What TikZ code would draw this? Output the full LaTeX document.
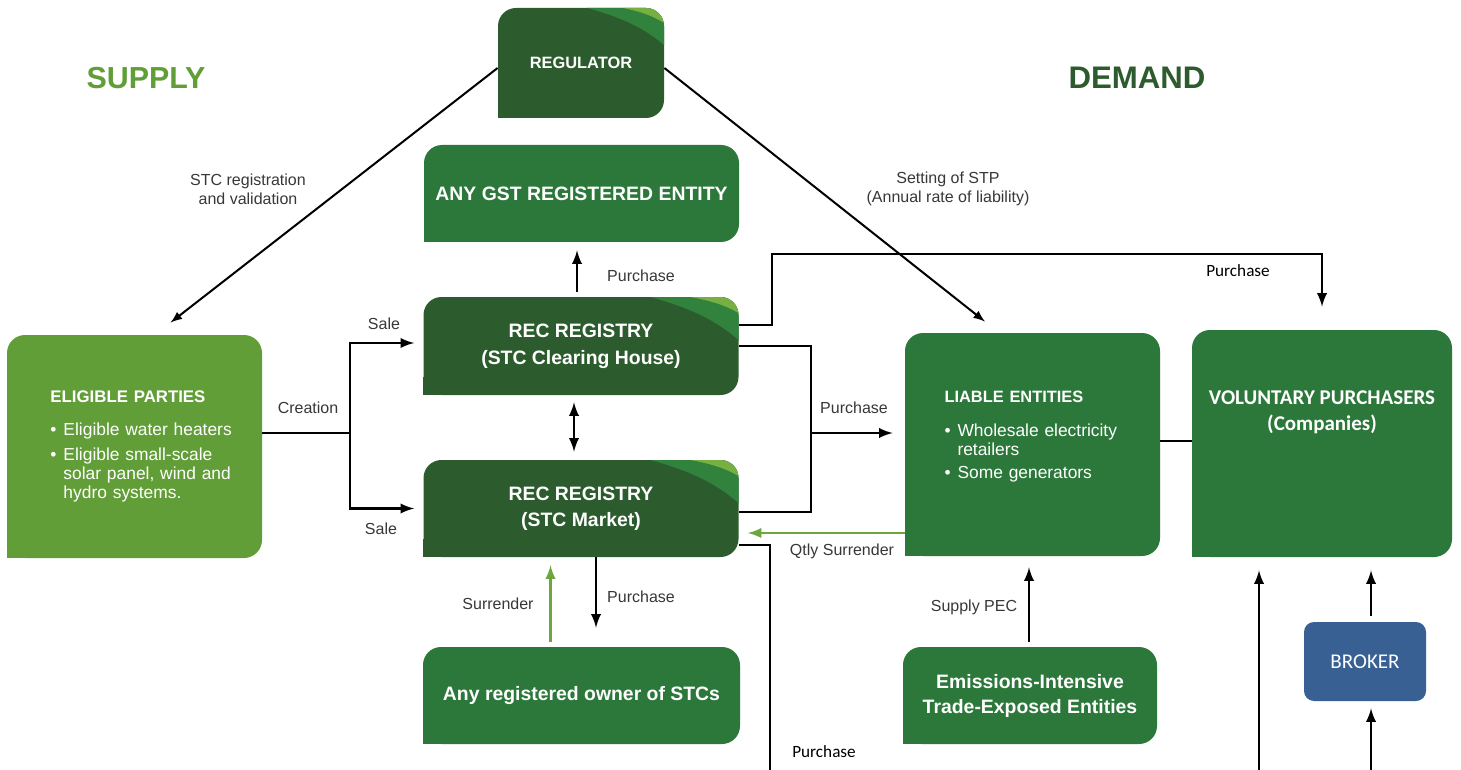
\documentclass[tikz,border=0pt]{standalone}
\usepackage{fontspec}
\setmainfont{Liberation Sans}
\newfontfamily\calibri{Carlito}
\usepackage{tikz}

\definecolor{darkgrn}{RGB}{44,92,46}
\definecolor{midgrn}{RGB}{44,120,58}
\definecolor{lightgrn}{RGB}{98,158,56}
\definecolor{swmid}{RGB}{48,130,60}
\definecolor{swlight}{RGB}{118,176,66}
\definecolor{brokerblue}{RGB}{56,96,146}
\definecolor{labelgray}{RGB}{55,55,55}
\definecolor{arrowgrn}{RGB}{108,166,60}

\newcommand{\bul}{\makebox[6.5pt][l]{\textbullet}}
\newcommand{\ind}{\hspace*{6.5pt}}

\tikzset{
  box/.style={rounded corners=9pt, text=white, inner sep=0pt},
  swoosh/.style n args={4}{path picture={
    \fill[swmid, sharp corners] ([xshift=-#1]path picture bounding box.north east)
      .. controls +({0.45*#1},{-0.25*#2}) and +({-0.25*#1},{0.45*#2}) .. ([yshift=-#2]path picture bounding box.north east)
      -- ([shift={(5pt,-#2)}]path picture bounding box.north east)
      -- ([shift={(5pt,5pt)}]path picture bounding box.north east)
      -- ([shift={(-#1,5pt)}]path picture bounding box.north east) -- cycle;
    \fill[swlight, sharp corners] ([xshift=-#3]path picture bounding box.north east)
      .. controls +({0.45*#3},{-0.25*#4}) and +({-0.25*#3},{0.45*#4}) .. ([yshift=-#4]path picture bounding box.north east)
      -- ([shift={(5pt,-#4)}]path picture bounding box.north east)
      -- ([shift={(5pt,5pt)}]path picture bounding box.north east)
      -- ([shift={(-#3,5pt)}]path picture bounding box.north east) -- cycle;
  }},
  conn/.style={line width=1.3pt, black},
  grnconn/.style={line width=1.3pt, arrowgrn},
  diag/.style={line width=1pt, black},
  lbl/.style={text=labelgray, align=center, font=\fontsize{8}{9.5}\selectfont},
  lblc/.style={text=black, font=\calibri\fontsize{8.6}{10}\selectfont},
}

\begin{document}
\begin{tikzpicture}[>=latex, x=0.5pt, y=-0.5pt]
\useasboundingbox (0,0) rectangle (1461,770);
%%
\node (supply) at (146,78) [text=lightgrn, font=\bfseries\fontsize{15.2}{18}\selectfont] {SUPPLY};
\node (demand) at (1137,78) [text=darkgrn, font=\bfseries\fontsize{15.6}{18}\selectfont] {DEMAND};
%
\node (reg) at (581,63) [box, fill=darkgrn, minimum width=83pt, minimum height=55pt, swoosh={38.5pt}{18.5pt}{20.5pt}{7.5pt}, font=\bfseries\fontsize{8.2}{10}\selectfont] {REGULATOR};
\node (gst) at (581.5,193.5) [box, fill=midgrn, minimum width=157.5pt, minimum height=48.5pt, font=\bfseries\fontsize{9.7}{12}\selectfont] {ANY GST REGISTERED ENTITY};
\node (rec1) at (581,346) [box, fill=darkgrn, minimum width=157.5pt, minimum height=49pt, align=center, swoosh={44pt}{21.5pt}{24pt}{8pt}, font=\bfseries\fontsize{9.7}{13.3}\selectfont] {REC REGISTRY\\(STC Clearing House)\rule[-2pt]{0pt}{0pt}};
\node (rec2) at (581,508.5) [box, fill=darkgrn, minimum width=157.5pt, minimum height=48.5pt, align=center, swoosh={44pt}{21.5pt}{24pt}{8pt}, font=\bfseries\fontsize{9.7}{13}\selectfont] {REC REGISTRY\\(STC Market)\rule[-2pt]{0pt}{0pt}};
\node (owner) at (581.5,695.5) [box, fill=midgrn, minimum width=158.5pt, minimum height=48.5pt, font=\bfseries\fontsize{9.7}{12}\selectfont] {Any registered owner of STCs};
\node (elig) at (134.5,446.5) [box, fill=lightgrn, minimum width=127.5pt, minimum height=111.5pt, text width=102pt, align=left, font=\fontsize{8.7}{9.5}\selectfont]
  {\leftskip=9pt{\bfseries\fontsize{8.4}{9.5}\selectfont ELIGIBLE PARTIES}\\[7pt]
   \bul Eligible water heaters\\[3pt]
   \bul Eligible small-scale\\
   \ind solar panel, wind and\\
   \ind hydro systems.\par};
\node (liable) at (1032.5,444.5) [box, fill=midgrn, minimum width=127.5pt, minimum height=111.5pt, text width=88pt, align=left, font=\fontsize{8.7}{9.5}\selectfont]
  {{\bfseries\fontsize{8.2}{9.5}\selectfont LIABLE ENTITIES}\\[7.5pt]
   \bul Wholesale electricity\\
   \ind retailers\\[2pt]
   \bul Some generators\rule[-9.5pt]{0pt}{0pt}};
\node (vol) at (1322,443.5) [box, fill=midgrn, minimum width=130pt, minimum height=113.5pt, align=center, font=\calibri\bfseries\fontsize{10.5}{13}\selectfont] {VOLUNTARY PURCHASERS\\(Companies)\rule[-33pt]{0pt}{0pt}};
\node (eite) at (1030,695.5) [box, fill=midgrn, minimum width=127pt, minimum height=48.5pt, align=center, font=\bfseries\fontsize{9.7}{12.5}\selectfont] {Emissions-Intensive\\Trade-Exposed Entities};
\node (broker) at (1365,661.5) [box, rounded corners=5pt, fill=brokerblue, minimum width=61pt, minimum height=39.5pt, font=\calibri\fontsize{10.5}{12}\selectfont] {BROKER};
%
\fill[darkgrn] (reg.south west) rectangle ++(9pt,9pt);
\fill[midgrn] (gst.south west) rectangle ++(9pt,9pt);
\fill[darkgrn] (rec1.south west) rectangle ++(9pt,9pt);
\fill[darkgrn] (rec2.south west) rectangle ++(9pt,9pt);
\fill[midgrn] (owner.south west) rectangle ++(9pt,9pt);
\fill[lightgrn] (elig.south west) rectangle ++(9pt,9pt);
\fill[midgrn] (liable.south west) rectangle ++(9pt,9pt);
\fill[midgrn] (vol.south west) rectangle ++(9pt,9pt);
\fill[midgrn] (eite.south west) rectangle ++(9pt,9pt);
%
\coordinate (split) at (350,433);
\coordinate (pjoin) at (811,433);
\coordinate (ptop) at (772,254);
\coordinate (pbot) at (770,770);
\coordinate (vb) at (1259,770);
\coordinate (bb) at (1371,770);
\coordinate (pg) at ([xshift=-2pt]rec1.north);
\coordinate (rr) at ([xshift=-3.5pt]rec1.south);
\coordinate (lv) at ([yshift=1.75pt]liable.east);
\coordinate (qs) at ([yshift=-44.25pt]liable.west);
\coordinate (po) at ([xshift=7.5pt]rec2.south);
\coordinate (so) at ([xshift=-15.5pt,yshift=2.5pt]owner.north);
\coordinate (pec) at ([xshift=-0.5pt,yshift=2.5pt]eite.north);
\coordinate (bv) at ([xshift=3pt,yshift=3pt]broker.north);
%
\draw [diag,->] ([yshift=-2.5pt]reg.west) -- ([xshift=18pt,yshift=6pt]elig.north);
\draw [diag,->] ([yshift=-2.5pt]reg.east) -- ([xshift=-23.75pt,yshift=5.5pt]liable.north);
\draw [conn] ([yshift=6.75pt]elig.east) -- (split);
\draw [conn,->] (split) |- ([xshift=-4.5pt,yshift=1.5pt]rec1.west);
\draw [conn,->] (split) |- ([xshift=-4.5pt]rec2.west);
\draw [conn,->,shorten <=2.5pt,shorten >=4pt] (pg) -- (pg |- gst.south);
\draw [conn,<->,shorten <=3.5pt,shorten >=4pt] (rr) -- (rr |- rec2.north);
\draw [conn] (rec1.east) -| (pjoin) |- ([yshift=-1.75pt]rec2.east);
\draw [conn,->,shorten >=6pt] (pjoin) -- (pjoin -| liable.west);
\draw [conn,->,shorten >=11.5pt] ([yshift=10.5pt]rec1.east) -| (ptop) -| (vol.north);
\draw [conn] (lv) -- (lv -| vol.west);
\draw [grnconn,->,shorten >=4.5pt] (qs) -- (qs -| rec2.east);
\draw [conn] ([yshift=-18.25pt]rec2.east) -| (pbot);
\draw [conn,->,shorten >=9.5pt] (po) -- (po |- owner.north);
\draw [grnconn,->,shorten >=4pt] (so) -- (so |- rec2.south);
\draw [conn,->,shorten >=5.5pt] (pec) -- (pec |- liable.south);
\draw [conn,->,shorten >=6.5pt] (vb) -- (vb |- vol.south);
\draw [conn,->,shorten >=6.5pt] (bv) -- (bv |- vol.south);
\draw [conn,->,shorten >=3.5pt] (bb) -- (bb |- broker.south);
%
\node (lreg) at (248,189) [lbl] {STC registration\\and validation};
\node (lstp) at (948,189) [lbl] {Setting of STP\\(Annual rate of liability)};
\node (lcre) at (308,408) [lbl] {Creation};
\node (lsale1) at (384,324) [lbl] {Sale};
\node (lsale2) at (381,529) [lbl] {Sale};
\node (lpgst) at (641,276) [lbl] {Purchase};
\node (lptop) at (1238,271) [lblc] {Purchase};
\node (lpliab) at (854,408) [lbl] {Purchase};
\node (lqs) at (842,551) [lbl] {Qtly Surrender};
\node (lpown) at (641,597) [lbl] {Purchase};
\node (lsur) at (498,604) [lbl] {Surrender};
\node (lpec) at (974,607) [lbl] {Supply PEC};
\node (lpbot) at (824,752) [lblc] {Purchase};
%
\end{tikzpicture}
\end{document}
